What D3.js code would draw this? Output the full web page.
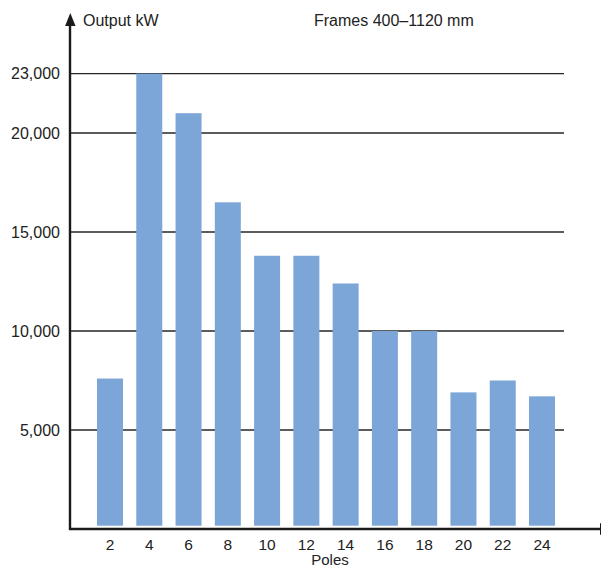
<!DOCTYPE html>
<html><head><meta charset="utf-8">
<script src="https://cdn.jsdelivr.net/npm/d3@7/dist/d3.min.js"></script>
<style>body{margin:0;background:#fff}svg{display:block}text{font-family:"Liberation Sans",Arial,sans-serif;fill:#222}</style>
</head><body>
<script>
const poles = ["2","4","6","8","10","12","14","16","18","20","22","24"];
const outputKW = [7600,23000,21000,16500,13800,13800,12400,10000,10000,6900,7500,6700];
const yTicks = [5000,10000,15000,20000,23000];
const yTitle = "Output kW";
const xTitle = "Poles";
const chartTitle = "Frames 400\u20131120 mm";

const W = 601, H = 567;
const svg = d3.select("body").append("svg").attr("width", W).attr("height", H);

const y = d3.scaleLinear().domain([0, 23000]).range([529, 73.6]);
const x = d3.scaleBand().domain(poles).range([97, 555]).paddingInner(0.338).paddingOuter(0);

// gridlines
svg.append("g").selectAll("line").data(yTicks).join("line")
  .attr("x1", 70).attr("x2", 564)
  .attr("y1", d => y(d)).attr("y2", d => y(d))
  .attr("stroke", "#262626").attr("stroke-width", 1.4);

// y tick labels
const fmt = d3.format(",");
svg.append("g").selectAll("text").data(yTicks).join("text")
  .attr("x", 60).attr("y", d => y(d)).attr("dy", "0.35em")
  .attr("text-anchor", "end").attr("font-size", 16)
  .text(d => fmt(d));

// bars
svg.append("g").selectAll("rect").data(outputKW).join("rect")
  .attr("x", (d, i) => x(poles[i]))
  .attr("width", x.bandwidth())
  .attr("y", d => y(d))
  .attr("height", d => y(0) - 3.3 - y(d))
  .attr("fill", "#7ca6d8");

// axes
svg.append("line").attr("x1", 70).attr("x2", 70).attr("y1", 530).attr("y2", 22)
  .attr("stroke", "#1a1a1a").attr("stroke-width", 2.4);
svg.append("path").attr("d", "M70.3,13 L75.5,26 L65.1,26 Z").attr("fill", "#1a1a1a");
svg.append("line").attr("x1", 69).attr("x2", 602).attr("y1", 529).attr("y2", 529)
  .attr("stroke", "#1a1a1a").attr("stroke-width", 2.3);
svg.append("path").attr("d", "M600,523 L613,529 L600,535 Z").attr("fill", "#1a1a1a");

// x tick labels
svg.append("g").selectAll("text").data(poles).join("text")
  .attr("x", d => x(d) + x.bandwidth() / 2).attr("y", 549.5)
  .attr("text-anchor", "middle").attr("font-size", 15.5)
  .text(d => d);

// titles
svg.append("text").attr("x", 83).attr("y", 26).attr("font-size", 16).text(yTitle);
svg.append("text").attr("x", 314).attr("y", 26).attr("font-size", 16).text(chartTitle);
svg.append("text").attr("x", 330).attr("y", 565).attr("text-anchor", "middle").attr("font-size", 15).text(xTitle);
</script>
</body></html>
